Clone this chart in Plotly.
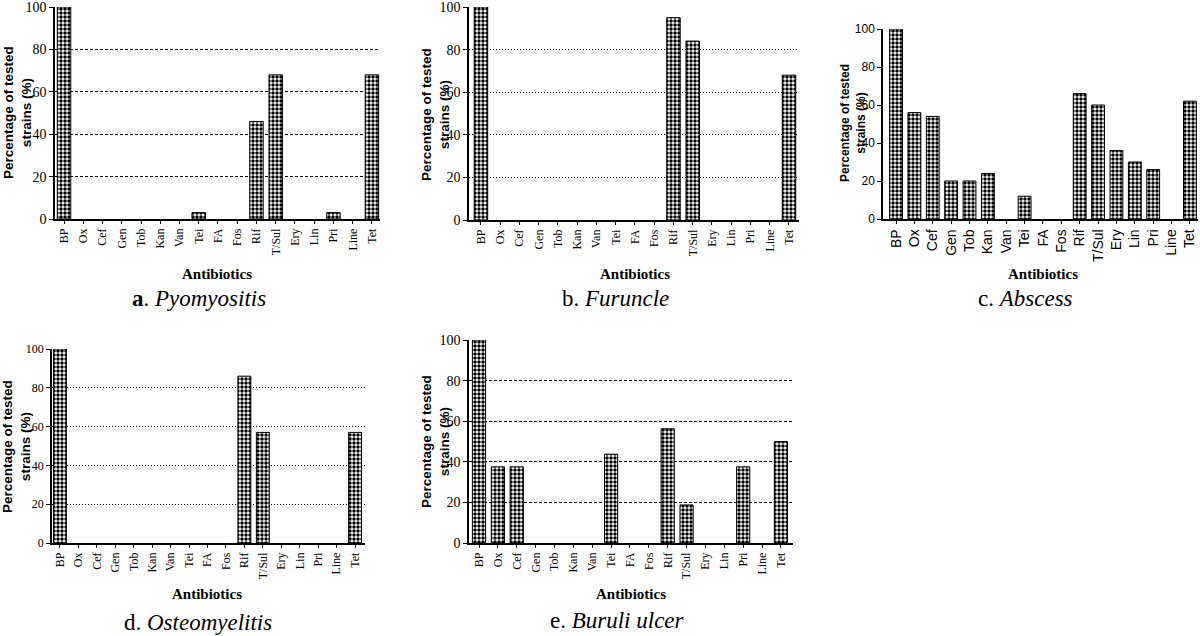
import plotly.graph_objects as go

antibiotics = ["BP", "Ox", "Cef", "Gen", "Tob", "Kan", "Van", "Tei", "FA", "Fos",
               "Rif", "T/Sul", "Ery", "Lin", "Pri", "Line", "Tet"]
pyomyositis = [100, 0, 0, 0, 0, 0, 0, 3, 0, 0, 46, 68, 0, 0, 3, 0, 68]
furuncle = [100, 0, 0, 0, 0, 0, 0, 0, 0, 0, 95, 84, 0, 0, 0, 0, 68]
abscess = [100, 56, 54, 20, 20, 24, 0, 12, 0, 0, 66, 60, 36, 30, 26, 0, 62]
osteomyelitis = [100, 0, 0, 0, 0, 0, 0, 0, 0, 0, 86, 57, 0, 0, 0, 0, 57]
buruli_ulcer = [100, 37.5, 37.5, 0, 0, 0, 0, 43.75, 0, 0, 56.25, 18.75, 0, 0, 37.5, 0, 50]
y_ticks = [0, 20, 40, 60, 80, 100]
captions = ["<b>a</b>. <i>Pyomyositis</i>", "b. <i>Furuncle</i>", "c. <i>Abscess</i>",
            "d. <i>Osteomyelitis</i>", "e. <i>Buruli ulcer</i>"]

W, H = 1200, 636
SERIF = "Liberation Serif, Times New Roman, Times, serif"
SANS = "Liberation Sans, Arial, sans-serif"

panels = [
    dict(data=pyomyositis, xd=(55, 380), yd=(7, 219), xr=(-0.47, 16.42), grid="3px,2px", font=SERIF,
         xfs=12, yfs=14, ytitle=(17, 113), xtitle=(217, 274), cap=(199, 298), tfs=13.5),
    dict(data=furuncle, xd=(469, 799), yd=(7, 220), xr=(-0.62, 16.52), grid="1px,2px", font=SERIF,
         xfs=12, yfs=14, ytitle=(435, 115), xtitle=(635, 274), cap=(615, 298), tfs=13.5),
    dict(data=abscess, xd=(883, 1198), yd=(29, 219), xr=(-0.71, 16.44), grid=None, font=SANS,
         xfs=14, yfs=12, ytitle=(853, 123), xtitle=(1043, 274), cap=(1025, 298), tfs=12),
    dict(data=osteomyelitis, xd=(52, 365), yd=(349, 543), xr=(-0.43, 16.54), grid="1px,2px", font=SERIF,
         xfs=12, yfs=12, ytitle=(16, 447), xtitle=(207, 594), cap=(198, 622), tfs=13.5),
    dict(data=buruli_ulcer, xd=(469, 793), yd=(340, 543), xr=(-0.53, 16.64), grid="3px,2px", font=SERIF,
         xfs=12, yfs=14, ytitle=(435, 442), xtitle=(631, 594), cap=(617, 620), tfs=13.5),
]

fig = go.Figure()
annotations = []
for i, p in enumerate(panels):
    n = "" if i == 0 else str(i + 1)
    line_w = [1 if v > 0 else 0 for v in p["data"]]
    fig.add_trace(go.Bar(
        x=antibiotics, y=p["data"], xaxis="x" + n, yaxis="y" + n, width=0.7,
        marker=dict(color="white", line=dict(color="black", width=line_w),
                    pattern=dict(shape=".", fgcolor="black", bgcolor="white", size=4, solidity=0.6)),
        showlegend=False, hoverinfo="x+y"))
    xa = dict(domain=[p["xd"][0] / W, p["xd"][1] / W], anchor="y" + n,
              range=list(p["xr"]), type="category", tickangle=-90, automargin=False,
              ticklabeloverflow="allow",
              tickfont=dict(family=p["font"], size=p["xfs"], color="black"),
              showline=True, linecolor="black", linewidth=1.5, ticks="outside", ticklen=3,
              tickcolor="black", showgrid=False, zeroline=False, fixedrange=True)
    ya = dict(domain=[1 - p["yd"][1] / H, 1 - p["yd"][0] / H], anchor="x" + n,
              range=[0, 100], tickvals=y_ticks, automargin=False,
              ticklabeloverflow="allow",
              tickfont=dict(family=p["font"], size=p["yfs"], color="black"),
              showline=True, linecolor="black", linewidth=1.5, ticks="outside", ticklen=4,
              tickcolor="black", zeroline=False, fixedrange=True,
              showgrid=p["grid"] is not None, gridcolor="black", gridwidth=1,
              griddash=p["grid"] if p["grid"] else "solid")
    fig.layout["xaxis" + n] = xa
    fig.layout["yaxis" + n] = ya
    annotations.append(dict(x=p["ytitle"][0] / W, y=1 - p["ytitle"][1] / H, xref="paper", yref="paper",
                            text="<b>Percentage of tested<br>strains (%)</b>", textangle=-90,
                            showarrow=False, xanchor="center", yanchor="middle",
                            font=dict(family=SANS, size=p["tfs"], color="black")))
    annotations.append(dict(x=p["xtitle"][0] / W, y=1 - p["xtitle"][1] / H, xref="paper", yref="paper",
                            text="<b>Antibiotics</b>", showarrow=False, xanchor="center", yanchor="middle",
                            font=dict(family=SERIF, size=15, color="black")))
    annotations.append(dict(x=p["cap"][0] / W, y=1 - p["cap"][1] / H, xref="paper", yref="paper",
                            text=captions[i], showarrow=False, xanchor="center", yanchor="middle",
                            font=dict(family=SERIF, size=23, color="black")))

fig.update_layout(template="none", width=W, height=H,
                  margin=dict(l=0, r=0, t=0, b=0, pad=0, autoexpand=False),
                  paper_bgcolor="white", plot_bgcolor="white", annotations=annotations,
                  bargap=0.3, font=dict(family=SERIF, color="black"))

fix_page = (
    "document.documentElement.style.margin='0';"
    "document.body.style.margin='0';"
    "document.body.style.overflow='hidden';"
    "var d=document.querySelector('.plotly-graph-div');"
    "d.style.position='fixed';d.style.top='0px';d.style.left='0px';"
)
fig.write_html("out.html", config={"displayModeBar": False}, post_script=fix_page)
